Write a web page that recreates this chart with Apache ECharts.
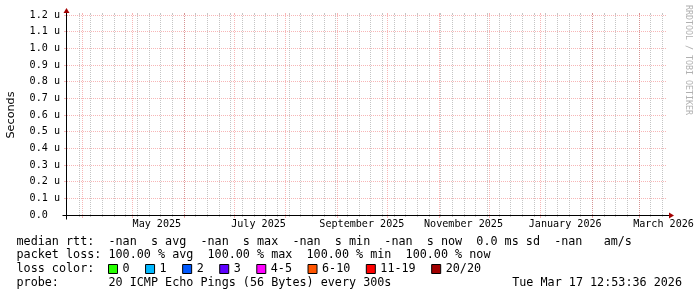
<!DOCTYPE html>
<html><head><meta charset="utf-8">
<script src="https://cdn.jsdelivr.net/npm/echarts@6/dist/echarts.min.js"></script>
<style>html,body{margin:0;padding:0;background:#fff}#c{width:697px;height:297px}</style>
</head><body><div id="c"></div>
<script>
// ---------------- data ----------------
const rangeStart = '2025-03-23T02:00:00Z';
const rangeEnd = '2026-03-18T02:00:00Z';
const monthStarts = ['2025-04-01','2025-05-01','2025-06-01','2025-07-01','2025-08-01','2025-09-01',
  '2025-10-01','2025-11-01','2025-12-01','2026-01-01','2026-02-01','2026-03-01'];
const firstWeekLine = '2025-03-30';
const monthLabels = ['May 2025','July 2025','September 2025','November 2025','January 2026','March 2026'];
const monthLabelDates = ['2025-05-16','2025-07-16','2025-09-16','2025-11-16','2026-01-16','2026-03-16'];
const yMin = 0, yMax = 1.2, yStep = 0.1;
const lossNames = ['0','1','2','3','4-5','6-10','11-19','20/20'];
const lossColors = ['#26ff00','#00b8ff','#0059ff','#5e00ff','#ff00ff','#ff5500','#ff0000','#a10000'];
const medianRtt = []; // all -nan
const statsLine1 = 'median rtt:  -nan  s avg  -nan  s max  -nan  s min  -nan  s now  0.0 ms sd  -nan   am/s';
const statsLine2 = 'packet loss: 100.00 % avg  100.00 % max  100.00 % min  100.00 % now';
const lossLabel = 'loss color:';
const probeLine = 'probe:       20 ICMP Echo Pings (56 Bytes) every 300s';
const stamp = 'Tue Mar 17 12:53:36 2026';
const yTitle = 'Seconds';
const watermark = 'RRDTOOL / TOBI OETIKER';

// ---------------- build ----------------
const ts = s => Date.parse(s.length === 10 ? s + 'T00:00:00Z' : s);
const tStart = ts(rangeStart), tEnd = ts(rangeEnd);
const weekLines = [];
for (let t = ts(firstWeekLine); t < tEnd; t += 7 * 86400000) weekLines.push([t, 0]);
const MONO = '"DejaVu Sans Mono"';
const majorCol = 'rgba(235,80,80,0.42)';
const minorCol = 'rgba(150,150,150,0.55)';
const arrowCol = '#a30000';

function vline(color, tickLen) {
  return function (params, api) {
    const p0 = api.coord([api.value(0), yMin]);
    const p1 = api.coord([api.value(0), yMax]);
    const x = Math.round(p0[0]) + 0.5;
    return { type: 'group', children: [
      { type: 'line', shape: { x1: x, y1: p0[1], x2: x, y2: p1[1] },
        style: { stroke: color, lineWidth: 1, lineDash: [1, 1] } },
      { type: 'line', shape: { x1: x, y1: p0[1], x2: x, y2: p0[1] + tickLen },
        style: { stroke: color, lineWidth: 1 } },
      { type: 'line', shape: { x1: x, y1: p1[1] - 2, x2: x, y2: p1[1] },
        style: { stroke: color, lineWidth: 1 } }
    ]};
  };
}

const series = [
  { type: 'custom', name: 'minor', clip: false, silent: true, z: 1,
    data: weekLines, encode: { x: 0, y: 1 }, renderItem: vline(minorCol, 2) },
  { type: 'custom', name: 'major', clip: false, silent: true, z: 2,
    data: monthStarts.map(d => [ts(d), 0]), encode: { x: 0, y: 1 }, renderItem: vline(majorCol, 3) },
  { type: 'custom', name: 'xlabels', clip: false, silent: true, z: 3,
    data: monthLabelDates.map(d => [ts(d), 0]), encode: { x: 0, y: 1 },
    renderItem: function (params, api) {
      const p = api.coord([api.value(0), yMin]);
      return { type: 'text', x: p[0], y: p[1] + 9.5,
        style: { text: monthLabels[params.dataIndex], font: '10.1px ' + MONO, fill: '#000',
          align: 'center', verticalAlign: 'middle' } };
    } },
  { type: 'custom', name: 'frame', clip: false, silent: true, z: 5,
    data: [[tStart, 0]], encode: { x: 0, y: 1 },
    renderItem: function (params, api) {
      const o = api.coord([tStart, yMin]);
      const e = api.coord([tEnd, yMax]);
      const x0 = Math.round(o[0]) - 0.5, y0 = Math.round(o[1]) + 0.5;
      const x1 = Math.round(e[0]), y1 = Math.round(e[1]);
      return { type: 'group', children: [
        { type: 'line', shape: { x1: x0 - 4, y1: y0, x2: x1 + 4, y2: y0 }, style: { stroke: '#000', lineWidth: 1 } },
        { type: 'line', shape: { x1: x0, y1: y0 + 4, x2: x0, y2: y1 - 4 }, style: { stroke: '#000', lineWidth: 1 } },
        { type: 'polygon', shape: { points: [[x1 + 2, y0 - 3], [x1 + 2, y0 + 3], [x1 + 7, y0]] }, style: { fill: arrowCol } },
        { type: 'polygon', shape: { points: [[x0 - 3, y1 - 2], [x0 + 3, y1 - 2], [x0, y1 - 7]] }, style: { fill: arrowCol } }
      ]};
    } },
  { type: 'line', name: 'median', data: medianRtt, showSymbol: false }
].concat(lossNames.map((n, i) => ({ type: 'scatter', name: n, data: [],
  itemStyle: { color: lossColors[i], opacity: 1 } })));

const chart = echarts.init(document.getElementById('c'), null, { renderer: 'canvas' });
chart.setOption({
  animation: false,
  backgroundColor: '#fff',
  grid: { left: 67, right: 30, top: 15, bottom: 82, containLabel: false, outerBoundsMode: 'none' },
  xAxis: { type: 'time', min: tStart, max: tEnd, show: false },
  yAxis: {
    type: 'value', min: yMin, max: yMax, interval: yStep,
    name: yTitle, nameLocation: 'middle', nameGap: 50, nameRotate: 90,
    nameTextStyle: { fontFamily: 'DejaVu Sans', fontSize: 11.2, color: '#000' },
    axisLine: { show: false },
    axisTick: { show: true, length: 3, lineStyle: { color: majorCol } },
    axisLabel: { margin: 7, fontFamily: 'DejaVu Sans Mono', fontSize: 10.1, color: '#000',
      formatter: v => (Math.abs(v) < 1e-9 ? '0.0  ' : v.toFixed(1) + ' u') },
    splitLine: { show: true, lineStyle: { color: majorCol, width: 1, type: [1, 1] } }
  },
  legend: {
    left: 108, top: 262, padding: 0, itemWidth: 9, itemHeight: 9, itemGap: 15.5,
    icon: 'rect', selectedMode: false, data: lossNames,
    itemStyle: { borderColor: '#000', borderWidth: 1, opacity: 1 },
    textStyle: { fontFamily: 'DejaVu Sans Mono', fontSize: 11.75, color: '#000', lineHeight: 14 }
  },
  graphic: [
    { type: 'text', x: 16.5, y: 241.5, style: { text: statsLine1, font: '11.75px ' + MONO, fill: '#000', verticalAlign: 'middle' } },
    { type: 'text', x: 16.5, y: 255.2, style: { text: statsLine2, font: '11.75px ' + MONO, fill: '#000', verticalAlign: 'middle' } },
    { type: 'text', x: 16.5, y: 269, style: { text: lossLabel, font: '11.75px ' + MONO, fill: '#000', verticalAlign: 'middle' } },
    { type: 'text', x: 16.5, y: 282.7, style: { text: probeLine, font: '11.75px ' + MONO, fill: '#000', verticalAlign: 'middle' } },
    { type: 'text', x: 682, y: 282.7, style: { text: stamp, font: '11.75px ' + MONO, fill: '#000', align: 'right', verticalAlign: 'middle' } },
    { type: 'text', x: 688, y: 60, rotation: -Math.PI / 2,
      style: { text: watermark, font: '8.3px ' + MONO, fill: '#b0b0b0', align: 'center', verticalAlign: 'middle' } }
  ],
  series: series
});
</script></body></html>
